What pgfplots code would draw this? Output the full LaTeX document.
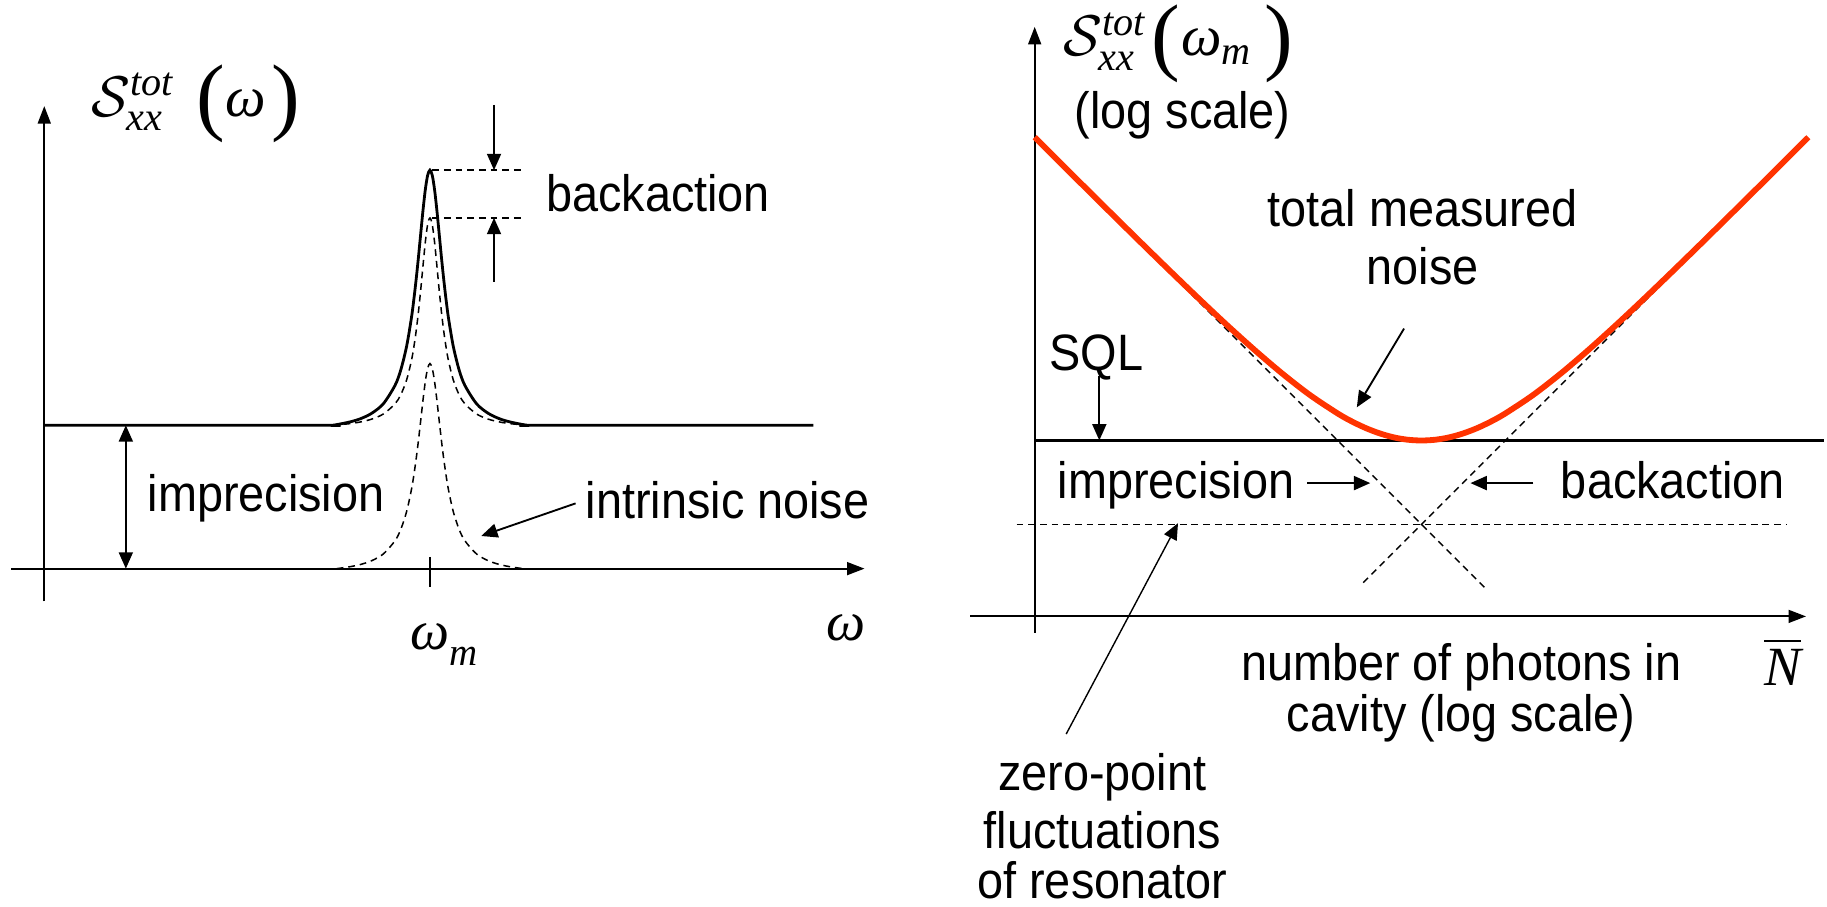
\RequirePackage{fix-cm}
\documentclass[border=0pt]{standalone}
\usepackage{amsmath}
\usepackage{fontspec}
\setmainfont[FakeStretch=0.915]{Liberation Sans}
\newfontfamily\tms{Liberation Serif}
\usepackage{pgfplots}
\pgfplotsset{compat=1.18}
\usetikzlibrary{arrows.meta}
\definecolor{redc}{RGB}{255,51,0}
\tikzset{
  ax/.style={line width=0.018cm, -{Triangle[length=0.15cm,width=0.11cm]}},
  arr/.style={line width=0.016cm, -{Triangle[length=0.14cm,width=0.12cm]}},
  dsh/.style={line width=0.013cm, dash pattern=on 0.058cm off 0.042cm},
  lab/.style={font=\fontsize{12.5}{15}\selectfont, inner sep=0pt},
  mth/.style={font=\fontsize{13.5}{16}\selectfont, inner sep=0pt},
  ttl/.style={font=\fontsize{14}{17}\selectfont, inner sep=0pt},
}
\newcommand{\ti}[1]{\text{\tms\itshape #1}}
\newcommand{\pp}[1]{\raisebox{-0.07cm}{\tms\fontsize{21}{23}\selectfont #1}}
\begin{document}
\begin{tikzpicture}
\useasboundingbox (0,0) rectangle (15.68,7.78);
%================ LEFT PANEL ================
\begin{axis}[
  hide axis, scale only axis, clip=false,
  width=7.00cm, height=3.98cm,
  xmin=0, xmax=700, ymin=0, ymax=398,
  at={(0.38cm,2.90cm)}, anchor=south west,
]
% axes
\draw[ax] (-28.5,0) -- (704,0);
\draw[ax] (0,-28) -- (0,397);
\draw[line width=0.018cm] (331,10) -- (331,-16);
% intrinsic noise
\addplot[black, dsh, smooth] coordinates {
(251,0) (261,1.4) (271,3.45) (281,6.8) (291,12.6) (301,23.9) (306,33.8) (311,49.0)
(315,67.2) (317,79.0) (319,92.9) (321,108.8) (323,126.4) (325,144.3) (327,160.4) (329,171.8)
(331,176)
(333,171.8) (335,160.4) (337,144.3) (339,126.4) (341,108.8) (343,92.9) (345,79.0) (347,67.2)
(351,49.0) (356,33.8) (361,23.9) (371,12.6) (381,6.8) (391,3.45) (401,1.4) (411,0)};
% imprecision + intrinsic
\addplot[black, dsh, smooth] coordinates {
(247,123) (261,124.3) (271,125.8) (281,128.3) (291,132.7) (301,141.4) (306,149.3) (311,162.0)
(315,178.0) (317,189.0) (319,202.6) (321,219.1) (323,238.4) (325,259.5) (327,279.9) (329,295.2)
(331,301)
(333,295.2) (335,279.9) (337,259.5) (339,238.4) (341,219.1) (343,202.6) (345,189.0) (347,178.0)
(351,162.0) (356,149.3) (361,141.4) (371,132.7) (381,128.3) (391,125.8) (401,124.3) (415,123)};
% total
\addplot[black, line width=0.024cm, smooth] coordinates {
(0,123) (237,123) (247,123) (261,125.6) (271,128.5) (281,133.3) (291,141.5) (301,157.2) (306,170.6)
(311,190.9) (315,214.5) (317,229.5) (319,246.7) (321,265.9) (323,286.6) (325,307.1) (327,325.0)
(329,337.5) (331,342)
(333,337.5) (335,325.0) (337,307.1) (339,286.6) (341,265.9) (343,246.7) (345,229.5) (347,214.5)
(351,190.9) (356,170.6) (361,157.2) (371,141.5) (381,133.3) (391,128.5) (401,125.6) (415,123)
(425,123) (660,123)};
% backaction marks
\draw[dsh] (333,342) -- (409,342);
\draw[dsh] (333,301) -- (409,301);
\draw[arr] (386,398) -- (386,342);
\draw[arr] (386,246) -- (386,301);
% imprecision double arrow
\draw[line width=0.016cm, {Triangle[length=0.14cm,width=0.12cm]}-{Triangle[length=0.14cm,width=0.12cm]}] (70,123) -- (70,0);
% intrinsic arrow
\draw[arr] (456,56) -- (375,28);
% labels
\node[lab, anchor=base west] at (430,306.3) {backaction};
\node[lab, anchor=base west] at (88,49) {imprecision};
\node[lab, anchor=base west] at (464,42.6) {intrinsic noise};
\node[mth, anchor=base] at (331,-69) {\tms\itshape ω\rlap{\raisebox{-0.3em}{\fontsize{9.5}{11}\selectfont m}}};
\node[mth, anchor=base] at (688,-62) {\tms\itshape ω};
\node[ttl, anchor=base west] at (40,388) {$\mathcal{S}^{\ti{tot}}_{\ti{xx}}$\hspace{0.18cm}\pp{(}\hspace{0.01cm}{\tms\itshape ω}\hspace{0.04cm}\pp{)}};
\end{axis}
%================ RIGHT PANEL ================
\begin{axis}[
  hide axis, scale only axis, clip=false,
  xmode=log, ymode=log,
  width=6.74cm, height=5.09cm,
  xmin=0.04083, xmax=26.98, ymin=0.4671, ymax=62.95,
  at={(8.88cm,2.49cm)}, anchor=south west,
]
\draw[ax] (rel axis cs:0,-0.0275) -- (rel axis cs:0,0.9941);
\draw[ax] (rel axis cs:-0.0823,0) -- (rel axis cs:0.9822,0);
% SQL
\addplot[black, line width=0.018cm] coordinates {(0.04083,2) (27.77,2)};
% zero-point fluctuations
\addplot[black, dsh] coordinates {(0.03519,1) (20.40,1)};
% imprecision ~ 1/N
\addplot[black, dsh] coordinates {(0.04083,24.49) (1.6823,0.5944)};
% backaction ~ N
\addplot[black, dsh] coordinates {(0.6177,0.6177) (24.03,24.03)};
% total measured noise
\addplot[redc, line width=0.05cm, smooth] coordinates {
(0.04083,24.53) (0.05012,20.00) (0.06310,15.91) (0.07943,12.67) (0.1,10.1) (0.1259,8.069)
(0.1585,6.468) (0.1995,5.211) (0.2512,4.232) (0.3162,3.479) (0.3981,2.910) (0.5012,2.497)
(0.5623,2.341) (0.6310,2.216) (0.7079,2.121) (0.7943,2.053) (0.8913,2.013) (1,2)
(1.122,2.013) (1.259,2.053) (1.413,2.121) (1.585,2.216) (1.778,2.341) (1.995,2.497)
(2.512,2.910) (3.162,3.479) (3.981,4.232) (5.012,5.211) (6.310,6.468) (7.943,8.069)
(10,10.1) (12.59,12.67) (15.85,15.91) (19.95,20.00) (24.49,24.53)};
% arrows
\draw[arr] (rel axis cs:0.0823,0.4047) -- (rel axis cs:0.0823,0.2967);
\draw[arr] (rel axis cs:0.4703,0.4853) -- (rel axis cs:0.4102,0.3525);
\draw[arr] (rel axis cs:0.3472,0.2248) -- (rel axis cs:0.4273,0.2248);
\draw[arr] (rel axis cs:0.6350,0.2248) -- (rel axis cs:0.5549,0.2248);
\draw[arr, line width=0.012cm] (rel axis cs:0.0401,-0.1984) -- (rel axis cs:0.1825,0.1572);
% labels
\node[lab, anchor=base west] at (rel axis cs:0.0178,0.4145) {SQL};
\node[lab, anchor=base] at (rel axis cs:0.494,0.6574) {total measured};
\node[lab, anchor=base] at (rel axis cs:0.494,0.5599) {noise};
\node[lab, anchor=base west] at (rel axis cs:0.0282,0.1990) {imprecision};
\node[lab, anchor=base west] at (rel axis cs:0.6691,0.1990) {backaction};
\node[lab, anchor=base] at (rel axis cs:0.543,-0.1088) {number of photons in};
\node[lab, anchor=base] at (rel axis cs:0.543,-0.1945) {cavity (log scale)};
\node[lab, anchor=base] at (rel axis cs:0.0861,-0.2941) {zero-point};
\node[lab, anchor=base] at (rel axis cs:0.0861,-0.3906) {fluctuations};
\node[lab, anchor=base] at (rel axis cs:0.0861,-0.4754) {of resonator};
\node[mth, anchor=base] at (rel axis cs:0.9525,-0.116) {$\overline{\ti{N}}$};
\node[ttl, anchor=base west] at (rel axis cs:0.0356,0.945) {$\mathcal{S}^{\ti{tot}}_{\ti{xx}}$\hspace{0.04cm}\pp{(}\hspace{0.01cm}$\ti{ω}_{\ti{m}}$\hspace{0.10cm}\pp{)}};
\node[lab, anchor=base] at (rel axis cs:0.1884,0.8232) {(log scale)};
\end{axis}
\end{tikzpicture}
\end{document}
